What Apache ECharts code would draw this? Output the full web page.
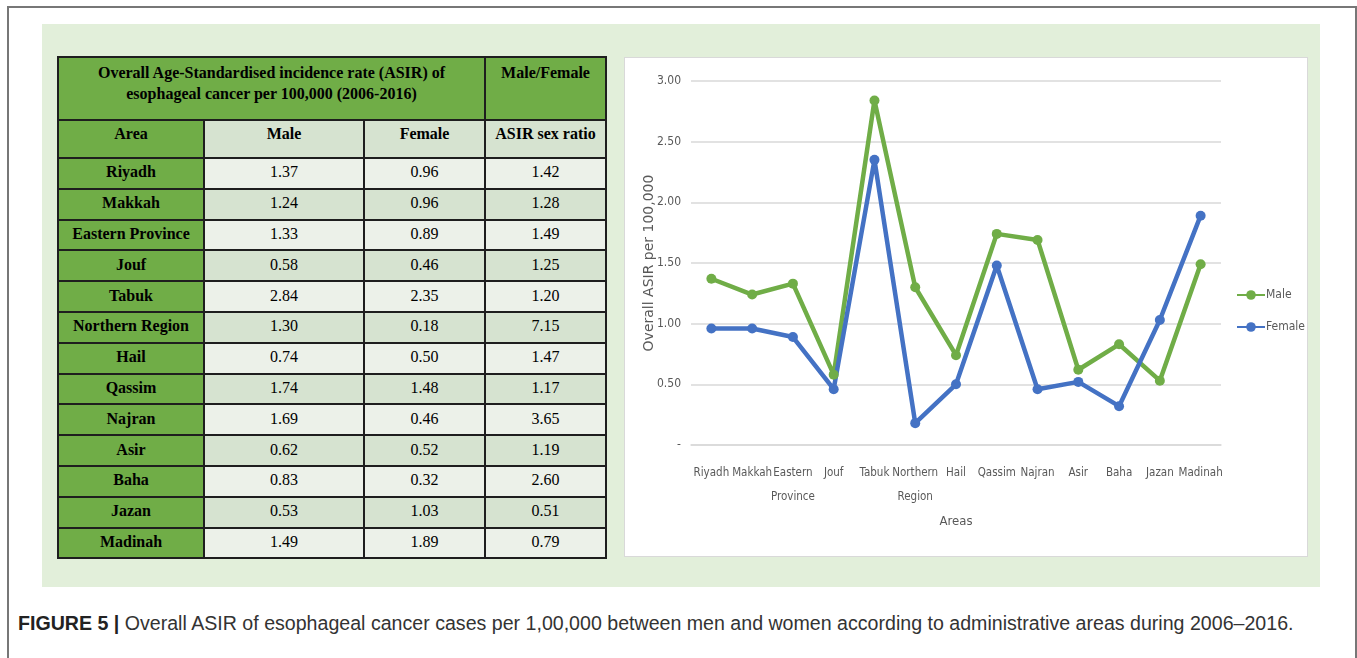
<!DOCTYPE html>
<html>
<head>
<meta charset="utf-8">
<script src="https://cdn.jsdelivr.net/npm/echarts@6/dist/echarts.min.js"></script>
<style>
  html, body { margin: 0; padding: 0; background: #fff; }
  #page { position: relative; width: 1357px; height: 658px; overflow: hidden; background: #fff; }
  #frame { position: absolute; left: 7px; top: 6px; width: 1346px; height: 700px; border: 2px solid #777; border-bottom: none; }
  #panel { position: absolute; left: 42px; top: 24px; width: 1278px; height: 563px; background: #e2efda; }
  #tbl { position: absolute; left: 57px; top: 56px; border-collapse: collapse; font-family: "Liberation Serif", "Times New Roman", serif; font-size: 16px; color: #000; }
  #tbl td { border: 2px solid #1e1e1e; text-align: center; padding: 0; line-height: 18px; }
  #tbl .g { background: #70ad47; font-weight: bold; }
  #tbl .h { background: #d6e3d0; font-weight: bold; vertical-align: top; padding-top: 4px; }
  #tbl .top { vertical-align: top; padding-top: 4px; line-height: 21px; }
  #tbl .lt { background: #ecf1e9; }
  #tbl .dk { background: #d6e3d0; }
  #tbl tr.d td { height: 26.8px; padding-bottom: 2px; }
  #box { position: absolute; left: 624px; top: 57px; width: 682px; height: 498px; background: #fff; border: 1px solid #d9d9d9; }
  #chart { width: 682px; height: 498px; }
  #cap { position: absolute; left: 18px; top: 612px; font-family: "Liberation Sans", Arial, sans-serif; font-size: 19.6px; color: #333; white-space: nowrap; }
  #cap b { color: #222; }
</style>
</head>
<body>
<div id="page">
  <div id="frame"></div>
  <div id="panel"></div>
  <table id="tbl"></table>
  <div id="box"><div id="chart"></div></div>
  <div id="cap"><b>FIGURE 5 |</b> Overall ASIR of esophageal cancer cases per 1,00,000 between men and women according to administrative areas during 2006–2016.</div>
</div>
<script>
var areas = ['Riyadh', 'Makkah', 'Eastern Province', 'Jouf', 'Tabuk', 'Northern Region', 'Hail',
  'Qassim', 'Najran', 'Asir', 'Baha', 'Jazan', 'Madinah']
var maleASIR = [1.37, 1.24, 1.33, 0.58, 2.84, 1.30, 0.74, 1.74, 1.69, 0.62, 0.83, 0.53, 1.49]
var femaleASIR = [0.96, 0.96, 0.89, 0.46, 2.35, 0.18, 0.50, 1.48, 0.46, 0.52, 0.32, 1.03, 1.89]
var sexRatio = [1.42, 1.28, 1.49, 1.25, 1.20, 7.15, 1.47, 1.17, 3.65, 1.19, 2.60, 0.51, 0.79]

// table on the left
var html = ''
html += '<tr style="height:63px"><td class="g top" colspan="3">Overall Age-Standardised incidence rate (ASIR) of<br>esophageal cancer per 100,000 (2006-2016)</td>' +
  '<td class="g top">Male/Female</td></tr>'
html += '<tr style="height:38px"><td class="g" style="width:144px;vertical-align:top;padding-top:4px">Area</td>' +
  '<td class="h" style="width:158px">Male</td><td class="h" style="width:119px">Female</td>' +
  '<td class="h" style="width:119px">ASIR sex ratio</td></tr>'
areas.forEach(function (a, i) {
  var c = i % 2 === 0 ? 'lt' : 'dk'
  html += '<tr class="d"><td class="g">' + a + '</td>' +
    '<td class="' + c + '">' + maleASIR[i].toFixed(2) + '</td>' +
    '<td class="' + c + '">' + femaleASIR[i].toFixed(2) + '</td>' +
    '<td class="' + c + '">' + sexRatio[i].toFixed(2) + '</td></tr>'
})
document.getElementById('tbl').innerHTML = html

// line chart on the right
var myChart = echarts.init(document.getElementById('chart'))
var labelFont = "'Liberation Sans Narrow', 'DejaVu Sans Condensed', Roboto, sans-serif"
myChart.setOption({
  animation: false,
  grid: { left: 66, top: 23, width: 530, height: 364 },
  legend: {
    orient: 'vertical',
    left: 606,
    top: 226,
    itemGap: 20,
    itemWidth: 28,
    itemHeight: 12,
    textStyle: { color: '#595959', fontSize: 12, fontFamily: labelFont, padding: [0, 0, 0, -4] },
    data: ['Male', 'Female']
  },
  xAxis: {
    type: 'category',
    data: areas,
    name: 'Areas',
    nameLocation: 'middle',
    nameGap: 70,
    nameTextStyle: { color: '#595959', fontSize: 13, fontFamily: labelFont },
    axisLine: { show: true, lineStyle: { color: '#d9d9d9', width: 1.5 } },
    axisTick: { show: false },
    axisLabel: {
      interval: 0,
      margin: 16,
      color: '#595959',
      fontSize: 11.5,
      lineHeight: 24,
      fontFamily: labelFont,
      formatter: function (value) { return value.replace(' ', '\n') }
    }
  },
  yAxis: {
    type: 'value',
    min: 0,
    max: 3,
    interval: 0.5,
    name: 'Overall ASIR per 100,000',
    nameLocation: 'middle',
    nameGap: 35,
    nameMoveOverlap: false,
    nameTextStyle: { color: '#595959', fontSize: 14, fontFamily: "'DejaVu Sans', sans-serif" },
    axisLine: { show: false },
    axisTick: { show: false },
    splitLine: { lineStyle: { color: '#d9d9d9', width: 1.5 } },
    axisLabel: {
      color: '#595959',
      fontSize: 12,
      margin: 10,
      fontFamily: labelFont,
      formatter: function (value) { return value === 0 ? '-' : value.toFixed(2) }
    }
  },
  series: [{
    name: 'Male',
    type: 'line',
    data: maleASIR,
    symbol: 'circle',
    symbolSize: 10,
    lineStyle: { width: 4.5, color: '#70ad47' },
    itemStyle: { color: '#70ad47' }
  }, {
    name: 'Female',
    type: 'line',
    data: femaleASIR,
    symbol: 'circle',
    symbolSize: 10,
    lineStyle: { width: 4.5, color: '#4472c4' },
    itemStyle: { color: '#4472c4' }
  }]
})
</script>
</body>
</html>
